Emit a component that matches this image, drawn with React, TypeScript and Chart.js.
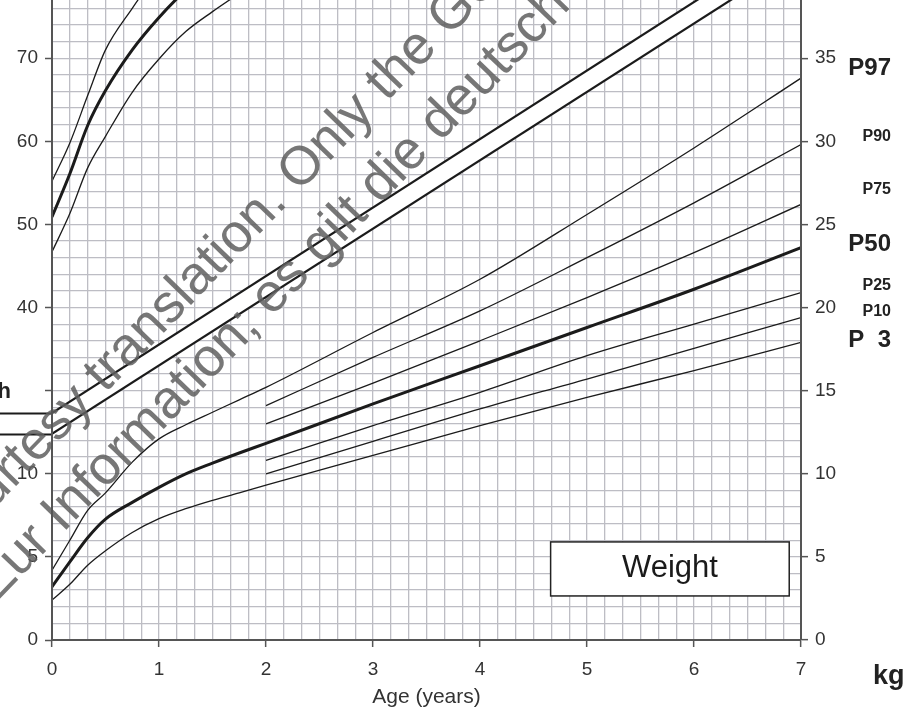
import React, { useEffect, useRef } from 'react';
import { Chart, registerables } from 'chart.js';
Chart.register(...registerables);

const FONT = '"Liberation Sans", Arial, sans-serif';

// Ages (years)
const weightAges = [0, 1 / 6, 1 / 3, 0.5, 0.75, 1, 1.25, 1.5, 1.75, 2, 3, 4, 5, 6, 7];
const childAges = [2, 3, 4, 5, 6, 7];
const lengthAges = [0, 1 / 6, 1 / 3, 0.5, 0.75, 1, 1.25, 1.5, 1.75];

// Weight percentiles (kg)
const weightP97 = [4.2, 6.0, 7.8, 8.85, 10.7, 12.1, 12.95, 13.7, 14.45, 15.2, 18.5, 21.7, 25.6, 29.6, 33.8];
const weightP50 = [3.2, 4.7, 6.15, 7.27, 8.28, 9.18, 9.99, 10.64, 11.25, 11.83, 14.2, 16.5, 18.8, 21.1, 23.6];
const weightP3 = [2.4, 3.35, 4.5, 5.37, 6.47, 7.3, 7.9, 8.4, 8.85, 9.32, 11.1, 12.9, 14.6, 16.2, 17.9];
const weightP90 = [14.1, 17.0, 19.8, 23.0, 26.3, 29.8];
const weightP75 = [13.0, 15.45, 18.0, 20.6, 23.3, 26.2];
const weightP25 = [10.8, 12.9, 14.9, 17.1, 19.0, 20.9];
const weightP10 = [10.0, 11.95, 13.9, 15.7, 17.55, 19.4];

// Length percentiles (cm)
const lengthP97 = [55.2, 59.8, 65.5, 71.0, 76.0, 80.5, 84, 87, 90];
const lengthP50 = [50.9, 56.1, 61.9, 66.1, 71.0, 74.9, 78.2, 81, 84];
const lengthP3 = [46.7, 51.3, 56.8, 60.6, 65.9, 69.9, 73.2, 75.6, 77.8];

// Diagonal band (kg scale)
const bandAges = [0, 7];
const bandUpper = [13.65, 42.5];
const bandLower = [12.4, 41.2];

// Axis ticks
const kgTicks = Array.from({ length: 39 }, (_, i) => i);
const cmTicks = [0, 10, 20, 30, 40, 50, 60, 70];
const ageTicks = Array.from({ length: 43 }, (_, i) => i / 6);

const percentileLabels = ['P97', 'P90', 'P75', 'P50', 'P25', 'P10', 'P  3'];
const percentileLabelKg = [34.4, 30.3, 27.1, 23.8, 21.3, 19.75, 18.05];
const percentileLabelBig = [true, false, false, true, false, false, true];

const zip = (xs: number[], ys: number[]) => xs.map((x, i) => ({ x, y: ys[i] }));
const isInt = (v: number) => Math.abs(v - Math.round(v)) < 1e-6;

const LINE = '#1b1b1b';
const GRID = '#bdbdc4';
const AXIS = '#555';

function line(label: string, xs: number[], ys: number[], width: number, axis = 'y') {
  return {
    label,
    data: zip(xs, ys),
    borderColor: LINE,
    borderWidth: width,
    pointRadius: 0,
    fill: false,
    cubicInterpolationMode: 'monotone' as const,
    yAxisID: axis,
  };
}

const decorPlugin = {
  id: 'decor',
  afterDatasetsDraw(chart: any) {
    const { ctx, chartArea, scales } = chart;
    const x = scales.x;
    const y = scales.y;
    ctx.save();

    // Band horizontal stubs left of axis
    ctx.strokeStyle = LINE;
    ctx.lineWidth = 2;
    [bandUpper[0], bandLower[0]].forEach((v) => {
      const py = Math.round(y.getPixelForValue(v)) + 0.5;
      ctx.beginPath();
      ctx.moveTo(0, py);
      ctx.lineTo(chartArea.left, py);
      ctx.stroke();
    });

    // "Length" label (mostly cut off)
    ctx.fillStyle = '#222';
    ctx.font = `bold 22px ${FONT}`;
    ctx.textAlign = 'right';
    ctx.textBaseline = 'alphabetic';
    ctx.fillText('Length', 11, 398);

    // Weight box
    const bx0 = x.getPixelForValue(4.66);
    const bx1 = x.getPixelForValue(6.89);
    const by0 = y.getPixelForValue(5.9);
    const by1 = y.getPixelForValue(2.65);
    ctx.fillStyle = '#fff';
    ctx.fillRect(bx0, by0, bx1 - bx0, by1 - by0);
    ctx.strokeStyle = '#222';
    ctx.lineWidth = 1.5;
    ctx.strokeRect(bx0, by0, bx1 - bx0, by1 - by0);
    ctx.fillStyle = '#1a1a1a';
    ctx.font = `31px ${FONT}`;
    ctx.textAlign = 'center';
    ctx.textBaseline = 'middle';
    ctx.fillText('Weight', (bx0 + bx1) / 2, (by0 + by1) / 2);

    // Percentile labels
    ctx.textAlign = 'right';
    ctx.fillStyle = '#222';
    percentileLabels.forEach((t, i) => {
      ctx.font = percentileLabelBig[i] ? `bold 24px ${FONT}` : `bold 16px ${FONT}`;
      ctx.fillText(t, 891, y.getPixelForValue(percentileLabelKg[i]));
    });

    // kg unit
    ctx.font = `bold 27px ${FONT}`;
    ctx.textAlign = 'left';
    ctx.textBaseline = 'alphabetic';
    ctx.fillText('kg', 873, 684);

    // Watermark
    ctx.fillStyle = 'rgba(95,95,95,0.85)';
    ctx.font = `54px ${FONT}`;
    ctx.textBaseline = 'alphabetic';
    ctx.textAlign = 'left';
    const ang = (-46 * Math.PI) / 180;
    const l1 = 'Courtesy translation. Only the German version is authoritative.';
    const p1 = ctx.measureText('Courtesy translation. ').width;
    ctx.save();
    ctx.translate(299, 193);
    ctx.rotate(ang);
    ctx.fillText(l1, -p1, 0);
    ctx.restore();
    const l2 = 'Zur Information; es gilt die deutsche Fassung.';
    const p2 = ctx.measureText('Zur Information; es gilt ').width;
    ctx.save();
    ctx.translate(380, 205);
    ctx.rotate(ang);
    ctx.fillText(l2, -p2, 0);
    ctx.restore();

    ctx.restore();
  },
};

export default function App() {
  const ref = useRef<HTMLCanvasElement>(null);
  useEffect(() => {
    if (!ref.current) return;
    const chart = new Chart(ref.current, {
      type: 'line',
      data: {
        datasets: [
          line('Length P97', lengthAges, lengthP97, 1.3, 'yLen'),
          line('Length P50', lengthAges, lengthP50, 3, 'yLen'),
          line('Length P3', lengthAges, lengthP3, 1.3, 'yLen'),
          line('Weight P97', weightAges, weightP97, 1.3),
          line('Weight P90', childAges, weightP90, 1.3),
          line('Weight P75', childAges, weightP75, 1.3),
          line('Weight P50', weightAges, weightP50, 3),
          line('Weight P25', childAges, weightP25, 1.3),
          line('Weight P10', childAges, weightP10, 1.3),
          line('Weight P3', weightAges, weightP3, 1.3),
          { ...line('Band upper', bandAges, bandUpper, 2.2), cubicInterpolationMode: 'default' as const },
          {
            ...line('Band lower', bandAges, bandLower, 2.2),
            fill: '-1',
            backgroundColor: '#ffffff',
          },
        ] as any,
      },
      options: {
        responsive: false,
        animation: false,
        layout: { padding: 0 },
        plugins: { legend: { display: false }, tooltip: { enabled: false } },
        scales: {
          x: {
            type: 'linear',
            min: 0,
            max: 7,
            afterBuildTicks: (s: any) => {
              s.ticks = ageTicks.map((value) => ({ value }));
            },
            afterFit: (s: any) => {
              s.height = 71;
              s.paddingLeft = 0;
              s.paddingRight = 0;
            },
            ticks: {
              autoSkip: false,
              maxRotation: 0,
              padding: 11,
              color: '#333',
              font: { size: 19, family: FONT },
              callback: (v: any) => (isInt(Number(v)) ? String(Math.round(Number(v))) : ''),
            },
            grid: {
              color: GRID,
              lineWidth: 1.3,
              tickLength: 7,
              tickWidth: 1.5,
              tickColor: (c: any) => (c.tick && isInt(c.tick.value) ? AXIS : 'rgba(0,0,0,0)'),
            },
            border: { color: AXIS, width: 2, z: 1 },
            title: {
              display: true,
              text: 'Age (years)',
              color: '#333',
              font: { size: 21, family: FONT },
              padding: { top: 0, bottom: 1 },
            },
          },
          yLen: {
            type: 'linear',
            position: 'left',
            min: 0,
            max: 77,
            afterBuildTicks: (s: any) => {
              s.ticks = cmTicks.map((value) => ({ value }));
            },
            afterFit: (s: any) => {
              s.width = 52;
              s.paddingTop = 0;
              s.paddingBottom = 0;
            },
            ticks: {
              padding: 7,
              color: '#333',
              font: { size: 19, family: FONT },
              callback: (v: any) => {
                const n = Number(v);
                if (n <= 20) return String(n / 2);
                if (n === 30) return '';
                return String(n);
              },
            },
            grid: { drawOnChartArea: false, tickLength: 7, color: AXIS, tickWidth: 1.5 },
            border: { color: AXIS, width: 2, z: 1 },
          },
          y: {
            type: 'linear',
            position: 'right',
            min: 0,
            max: 38.5,
            afterBuildTicks: (s: any) => {
              s.ticks = kgTicks.map((value) => ({ value }));
            },
            afterFit: (s: any) => {
              s.width = 118;
              s.paddingTop = 0;
              s.paddingBottom = 0;
            },
            ticks: {
              autoSkip: false,
              padding: 7,
              color: '#333',
              font: { size: 19, family: FONT },
              callback: (v: any) => (Number(v) % 5 === 0 ? String(v) : ''),
            },
            grid: {
              color: GRID,
              lineWidth: 1.3,
              tickLength: 7,
              tickWidth: 1.5,
              tickColor: (c: any) => (c.tick && c.tick.value % 5 === 0 ? AXIS : 'rgba(0,0,0,0)'),
            },
            border: { color: AXIS, width: 2, z: 1 },
          },
        },
      } as any,
      plugins: [decorPlugin],
    });
    return () => chart.destroy();
  }, []);

  return (
    <div style={{ position: 'fixed', left: 0, top: 0, width: 919, height: 711, background: '#fff' }}>
      <canvas ref={ref} width={919} height={711} style={{ display: 'block' }} />
    </div>
  );
}
